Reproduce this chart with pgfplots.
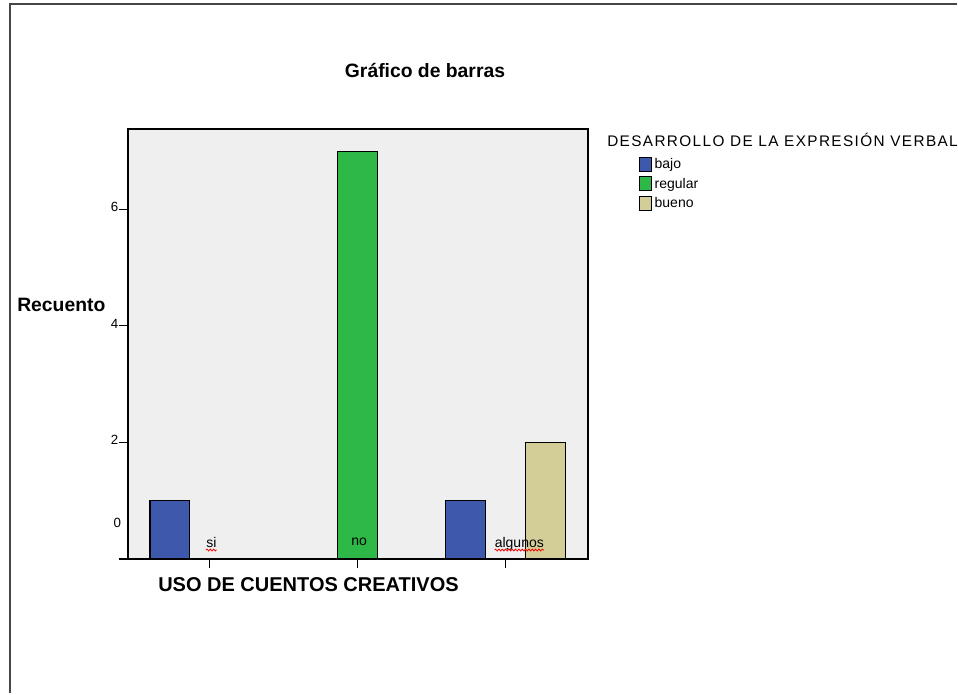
\documentclass[border=0pt]{standalone}
\usepackage{fontspec}
\setmainfont{Liberation Sans}
\newfontfamily\spaced[LetterSpace=9]{Liberation Sans}
\usepackage{pgfplots}
\pgfplotsset{compat=1.18}
\usetikzlibrary{decorations.pathmorphing}
\definecolor{spssblue}{RGB}{62,88,171}
\definecolor{spssgreen}{RGB}{46,184,72}
\definecolor{spssbeige}{RGB}{211,206,151}
\definecolor{plotbg}{RGB}{239,239,239}
\definecolor{framegray}{RGB}{70,70,70}

\begin{document}
\begin{tikzpicture}
\begin{scope}[x=0.75pt,y=-0.75pt]
\useasboundingbox (0,0) rectangle (958,694);
\end{scope}

\begin{axis}[
    at={(96pt,-419.25pt)}, anchor=south west,
    scale only axis,
    width=345pt, height=322.5pt,
    ybar=0pt, bar width=0.27,
    xmin=-0.554, xmax=2.56,
    ymin=0, ymax=7.38,
    xtick={0,1,2}, xticklabels={},
    ytick={0,2,4,6}, yticklabels={,2,4,6},
    xtick pos=left, ytick pos=left,
    tick align=outside, major tick length=7pt,
    every tick/.style={black, line width=0.8pt},
    axis line style={line width=1.1pt},
    axis background/.style={fill=plotbg},
    yticklabel style={font=\fontsize{10}{11}\selectfont, anchor=south east, inner sep=0pt, yshift=-2pt},
    clip=false,
    legend cell align=left,
    legend style={at={(1,1)}, anchor=north west, xshift=38pt, yshift=-20pt,
        draw=none, fill=none, inner sep=0pt, row sep=1.5pt,
        font=\fontsize{10.5}{11}\selectfont},
    legend image code/.code={\draw[#1, line width=0.8pt] (0pt,-5pt) rectangle (9pt,5.5pt);},
]

\addplot[fill=spssblue, draw=black, line width=0.9pt] coordinates {(0,1) (2,1)};
\addlegendentry{bajo}
\addplot[fill=spssgreen, draw=black, line width=0.9pt] coordinates {(1,7)};
\addlegendentry{regular}
\addplot[fill=spssbeige, draw=black, line width=0.9pt] coordinates {(2,2)};
\addlegendentry{bueno}

\node[font=\fontsize{10.5}{12}\selectfont, anchor=base, inner sep=0pt] (lsi) at (axis cs:0.01,0.2) {si};
\node[font=\fontsize{10.5}{12}\selectfont, anchor=base, inner sep=0pt] (lno) at (axis cs:1.01,0.24) {no};
\node[font=\fontsize{10.5}{12}\selectfont, anchor=base, inner sep=0pt] (lalg) at (axis cs:2.095,0.2) {algunos};
\node[font=\fontsize{10}{11}\selectfont, anchor=east, inner sep=0pt, xshift=-5pt] at (axis cs:-0.554,0.62) {0};
\end{axis}

\draw[red, line width=0.6pt, decorate, decoration={snake, amplitude=0.7pt, segment length=2.5pt}]
    ([yshift=-2pt]lsi.base west) -- ([yshift=-2pt]lsi.base east);
\draw[red, line width=0.6pt, decorate, decoration={snake, amplitude=0.7pt, segment length=2.5pt}]
    ([yshift=-2pt]lalg.base west) -- ([yshift=-2pt]lalg.base east);

\begin{scope}[x=0.75pt,y=-0.75pt]
\draw[line width=1.5pt, color=framegray] (10,693) -- (10,4) -- (957,4);
\node[font=\bfseries\fontsize{14.5}{16}\selectfont] at (425,70) {Gráfico de barras};
\node[font=\bfseries\fontsize{14.5}{16}\selectfont, anchor=west, inner sep=0pt] at (17,305) {Recuento};
\node[font=\bfseries\fontsize{15}{17}\selectfont, anchor=west, inner sep=0pt] at (158,585) {USO DE CUENTOS CREATIVOS};
\node[font=\spaced\fontsize{11.5}{13}\selectfont, anchor=west, inner sep=0pt] at (607,140) {DESARROLLO DE LA EXPRESIÓN VERBAL};
\end{scope}
\end{tikzpicture}
\end{document}
